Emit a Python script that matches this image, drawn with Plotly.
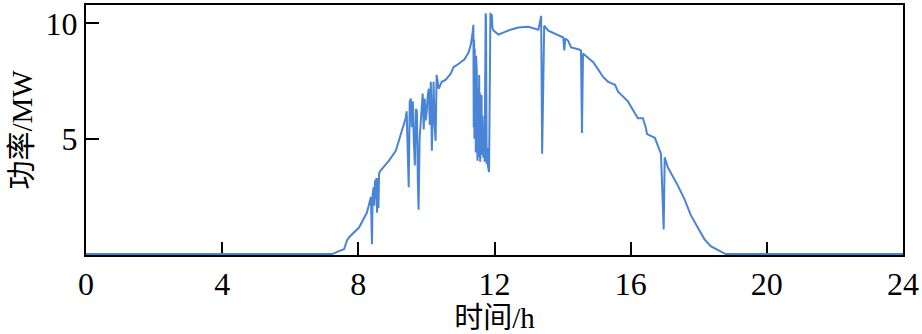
import plotly.graph_objects as go

# Time of day (h) and PV output power (MW)
time_h = [0.0, 7.23, 7.43, 7.58, 7.67, 7.73, 8.02, 8.25, 8.37, 8.40, 8.42, 8.45, 8.47,
          8.49, 8.51, 8.53, 8.55, 8.57, 8.59, 8.61, 8.66, 8.90, 9.10, 9.16, 9.25, 9.31,
          9.39, 9.42, 9.45, 9.48, 9.51, 9.54, 9.57, 9.60, 9.63, 9.66, 9.69, 9.72, 9.75,
          9.77, 9.80, 9.83, 9.86, 9.89, 9.92, 9.95, 9.98, 10.01, 10.04, 10.07, 10.10,
          10.13, 10.16, 10.19, 10.21, 10.24, 10.27, 10.30, 10.36, 10.45, 10.56, 10.71,
          10.80, 10.89, 11.00, 11.12, 11.24, 11.30, 11.35, 11.38, 11.39, 11.40, 11.41,
          11.42, 11.43, 11.44, 11.45, 11.46, 11.47, 11.48, 11.50, 11.51, 11.52, 11.53,
          11.54, 11.55, 11.56, 11.57, 11.58, 11.59, 11.61, 11.62, 11.63, 11.65, 11.67,
          11.69, 11.71, 11.74, 11.75, 11.77, 11.79, 11.81, 11.84, 11.88, 11.90, 11.92,
          11.94, 11.97, 12.12, 12.26, 12.47, 12.70, 12.99, 13.29, 13.37, 13.40, 13.46,
          13.58, 13.87, 14.02, 14.05, 14.08, 14.16, 14.25, 14.46, 14.54, 14.57, 14.60,
          14.66, 14.90, 15.04, 15.19, 15.34, 15.54, 15.63, 15.92, 16.21, 16.36, 16.45,
          16.48, 16.71, 16.89, 16.97, 17.00, 17.09, 17.38, 17.59, 17.76, 17.97, 18.17,
          18.35, 18.61, 18.79, 24.0]
power_mw = [0.0, 0.0, 0.13, 0.21, 0.60, 0.73, 1.15, 1.79, 2.48, 0.43, 2.60, 2.9, 2.1,
            3.20, 2.4, 3.3, 1.79, 3.30, 2.0, 3.50, 3.63, 4.05, 4.48, 4.78, 5.21, 5.46,
            5.89, 6.19, 4.5, 2.90, 6.6, 6.74, 5.5, 6.62, 4.9, 3.84, 6.3, 6.19, 3.0,
            1.92, 5.0, 5.76, 6.4, 6.96, 5.4, 6.74, 5.8, 6.19, 6.9, 7.17, 5.6, 7.47, 4.48,
            7.2, 7.47, 5.6, 4.91, 7.77, 7.17, 7.47, 7.55, 7.81, 8.11, 8.19, 8.32, 8.45,
            8.75, 9.05, 9.52, 9.94, 5.5, 9.3, 5.0, 8.9, 5.6, 8.6, 4.4, 8.6, 4.8, 7.9,
            4.05, 7.2, 4.6, 6.6, 4.2, 7.77, 4.5, 7.0, 4.0, 6.5, 4.3, 6.9, 4.35, 6.0,
            4.18, 5.5, 4.0, 10.44, 10.3, 3.9, 4.6, 3.8, 3.55, 10.46, 10.2, 10.4, 9.8,
            9.69, 9.52, 9.60, 9.73, 9.82, 9.86, 9.73, 10.33, 4.35, 9.90, 9.69, 9.48,
            9.39, 8.83, 9.35, 9.26, 8.96, 8.88, 8.83, 5.25, 8.70, 8.62, 8.32, 8.02, 7.68,
            7.47, 7.34, 7.04, 6.62, 5.89, 5.89, 5.46, 5.20, 5.04, 4.35, 1.07, 4.20, 3.76,
            2.99, 2.35, 1.71, 1.15, 0.64, 0.34, 0.13, 0.0, 0.0]

x_ticks = [0, 4, 8, 12, 16, 20, 24]
y_ticks = [5, 10]

serif = "Liberation Serif, Times New Roman, Noto Sans CJK SC, serif"

fig = go.Figure(go.Scatter(x=time_h, y=power_mw, mode="lines",
                           line=dict(color="#4A84D6", width=2)))

fig.update_layout(
    width=922, height=334,
    margin=dict(l=86, r=16, t=3, b=79),
    paper_bgcolor="white", plot_bgcolor="white",
    showlegend=False,
    font=dict(family=serif, size=32, color="black"),
)
fig.update_xaxes(
    range=[0, 24], tickvals=x_ticks, ticks="inside", ticklen=13, tickwidth=2,
    tickcolor="black", showline=True, linecolor="black", linewidth=2, mirror=True,
    showgrid=False, zeroline=False, layer="below traces",
    tickfont=dict(family=serif, size=32),
    title=dict(text="时间/h", font=dict(family=serif, size=29), standoff=4),
)
fig.update_yaxes(
    range=[-0.04, 10.8], tickvals=y_ticks, ticks="inside", ticklen=13, tickwidth=2,
    tickcolor="black", showline=True, linecolor="black", linewidth=2, mirror=True,
    showgrid=False, zeroline=False, layer="below traces",
    tickfont=dict(family=serif, size=32),
    title=dict(text="功率/MW", font=dict(family=serif, size=29), standoff=4),
)

fig.write_html("out.html")
